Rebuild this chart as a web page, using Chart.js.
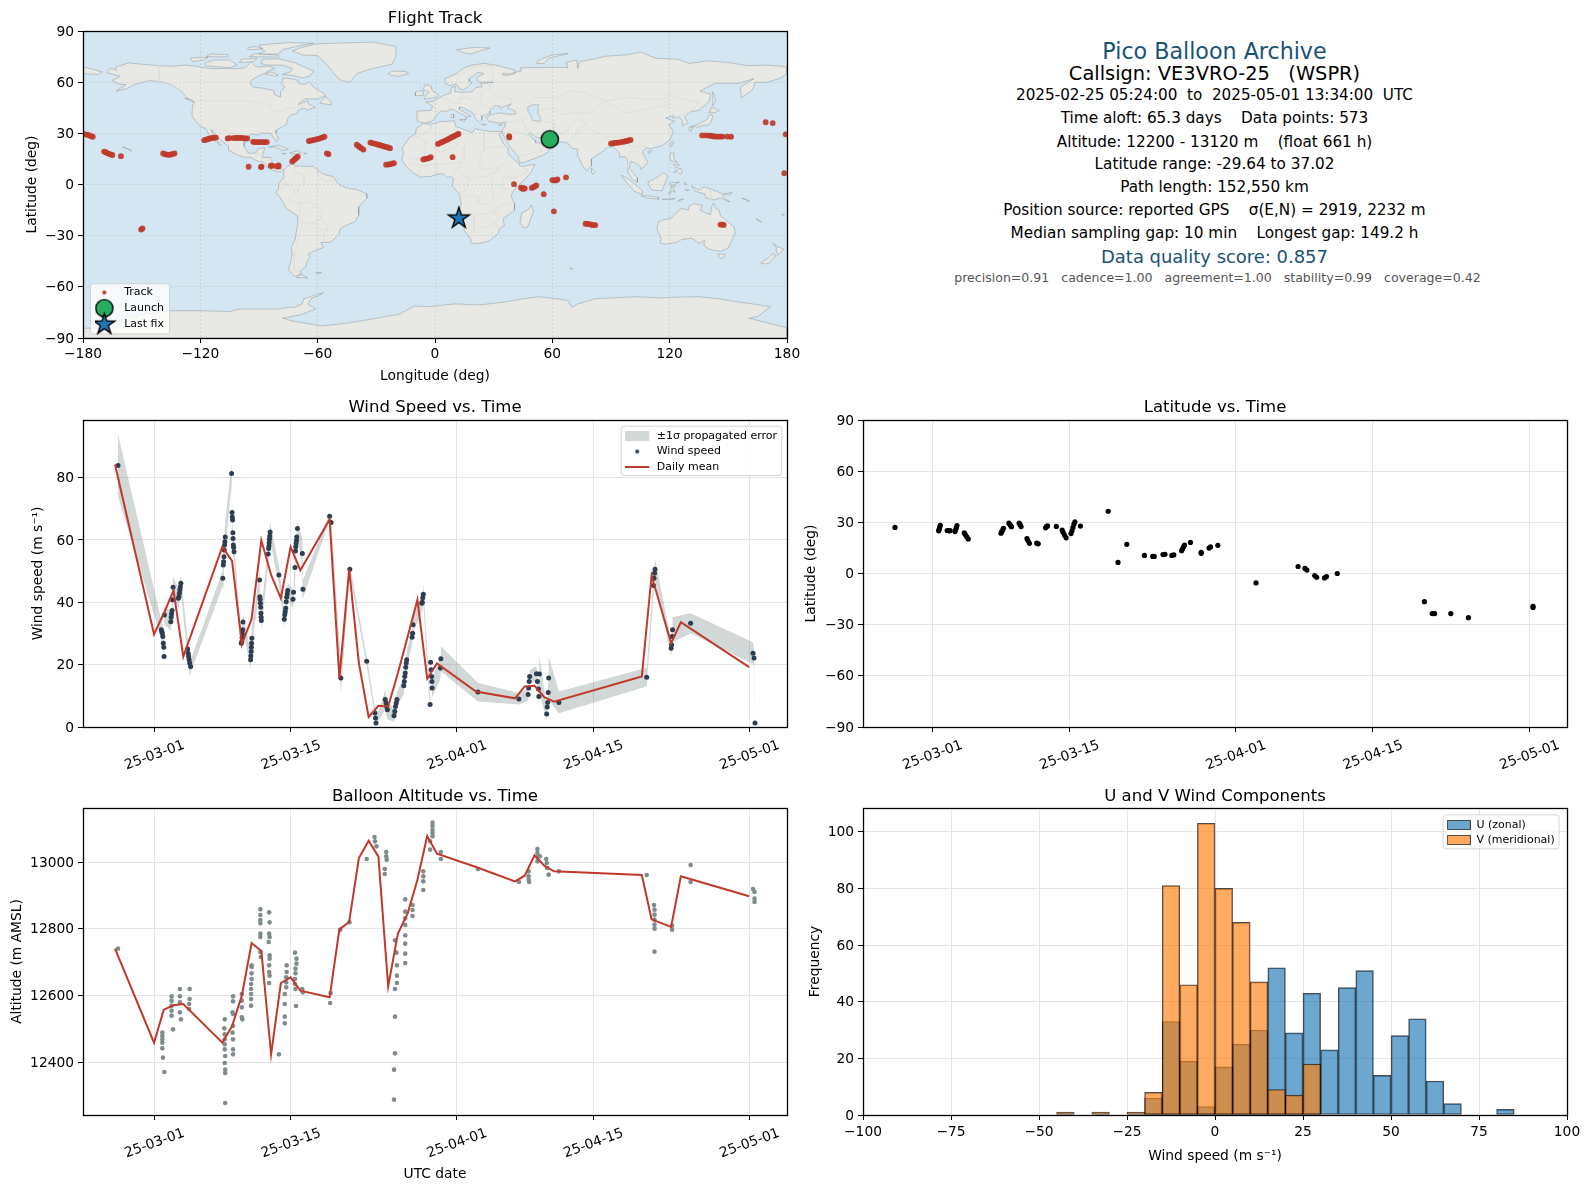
<!DOCTYPE html>
<html><head><meta charset="utf-8">
<style>
html,body{margin:0;padding:0;background:#fff;width:1589px;height:1189px;overflow:hidden;font-family:"DejaVu Sans",sans-serif}
canvas{position:absolute}
.info{position:absolute;transform:translate(-50%,-50%);white-space:pre;line-height:1}
</style>
<script src="https://cdn.jsdelivr.net/npm/chart.js@4/dist/chart.umd.js"></script>
</head><body>
<script>
/* ---------- DATA (days are counted from 2025-03-01) ---------- */
const dateTickDays=[0,14,31,45,61];
const dateTickLabels=['25-03-01','25-03-15','25-04-01','25-04-15','25-05-01'];
const lonTicks=[-180,-120,-60,0,60,120,180];
const latTicks=[-90,-60,-30,0,30,60,90];
const windTicks=[0,20,40,60,80];
const altTicks=[12400,12600,12800,13000];
const histXTicks=[-100,-75,-50,-25,0,25,50,75,100];
const histYTicks=[0,20,40,60,80,100];

const launchFix=[58.7,26.5];
const lastFix=[12.2,-19.5];
const trackFixes=[[-179.8,29.6],[-178.8,29.4],[-177.8,29.2],[-176.8,28.8],[-175.8,28.3],[-175,28],
[-169.2,19.3],[-168.4,18.9],[-167.6,18.4],[-166.8,18],[-166,17.7],[-165,17.3],[-160.6,16.6],
[-139,18.2],[-138,17.8],[-137,17.5],[-136,17.4],[-135,17.6],[-134,18],[-133.2,18.2],[-150.3,-26.4],[-149.6,-25.8],
[-118,26],[-117,26.3],[-116,26.7],[-115,27],[-114,27.3],[-113,27.4],[-112,27.5],
[-106,27],[-105,27.2],[-103,27.2],[-102,27.3],[-101,27.3],[-100,27.3],[-99,27.3],[-98,27.2],[-97,27],[-96,27],
[-93,25],[-92,24.9],[-91,24.8],[-90,24.9],[-89,24.9],[-88,24.9],[-87,24.8],[-86,24.9],
[-95.3,10.4],[-88.7,10.4],[-89,10.2],[-84,11],[-83.2,11],[-80.8,10.7],[-80,11.2],[-80,10.5],
[-73,13.5],[-72.3,14.2],[-71.6,15],[-71,15.6],[-70.2,16.3],
[-64.5,25.5],[-63.5,25.7],[-62.5,26],[-61.5,26.2],[-60.5,26.6],[-59.5,26.8],[-58.5,27.2],[-57.5,27.6],[-56.5,28],
[-55.3,18.3],[-54.5,17.8],[-40,23.3],[-39.2,22.6],[-38.4,21.9],[-37.6,21.2],[-36.6,20.5],
[-33,24.6],[-32,24.3],[-31,24],[-30,23.7],[-29,23.3],[-28,23],[-27,22.7],[-26,22.3],[-25,22],[-24,21.7],[-23,21.3],
[-25,11.6],[-24,11.7],[-23,11.9],[-22,12.2],[-21,12.5],[-6,14.7],[-5,15],[-4,15.2],[-3,15.5],[-2.2,16],
[1.5,23.8],[2.5,24.3],[3.5,24.8],[4.5,25.3],[5.5,25.9],[6.5,26.4],[7.5,27],[8.5,27.7],[9.5,28.2],[10.5,28.8],[11.5,29.4],[12,29.6],
[9,16],[37.9,28.4],[38,27.6],[40.4,0.2],[44,-1.9],[45,-2.1],[45.9,-2.3],[45,-2.6],[49.5,-2],[50.3,-1.5],[51,-1.2],[51.8,-0.6],
[55.6,-5.7],[60.8,-15.7],[60,2.6],[61,2.4],[62,2.5],[62.6,3],[67,4.2],
[77,-23],[78,-23.1],[79,-23.2],[80,-23.6],[81,-23.8],[82,-23.8],
[90,24],[91,24.2],[92,24.4],[93,24.6],[94,24.6],[95,24.9],[96,25],[97,25.2],[98,25.5],[99,25.8],[100,26.1],
[136.6,28.8],[138.5,28.8],[140,28.7],[141,28.6],[142,28.3],[143,28.2],[144,28.1],[145,28.1],[146,28.1],[147,28.1],[149.4,28.1],[151.4,28],
[146,-23.5],[147,-23.5],[147.6,-23.7],[169.1,36.5],[172.7,36],[179.3,29.4],[178.6,6.6]];

const meanDays=[-4,0,1,2,3,7,8,9,10,11,12,13,14,15,18,19,20,21,22,23,24,25,26,27,28,29,33,37,38,39,40,41,50,51,53,54,61];
const meanSpeed=[84.2,29.8,36.4,43.8,22.6,57.8,53.3,26.6,34.6,59.9,48.8,41.3,57.8,50.3,66.6,15.7,50.6,20.5,3.2,6.8,6.6,17.3,29,40.8,15.5,20.4,11.4,9.2,13,13.2,9.6,8.1,16.2,48.6,26.9,33.6,19.2];
const meanAltitude=[12740,12458,12557,12570,12574,12458,12508,12599,12757,12733,12423,12637,12654,12614,12594,12798,12820,13012,13064,13016,12627,12785,12846,12947,13078,13025,12985,12942,12959,13020,12989,12972,12961,12828,12805,12957,12897];

/* [day, speed, sigma] */
const windSamples=[[-3.69,83.9,10],
[.75,31.2,3],[.8,30.6,3],[.85,30.1,3],[.9,29,3],[.95,26.9,3],[1,25.6,3],[1.03,22.6,3],[1.06,35.9,3],
[1.72,33.8,3],[1.76,35.2,3],[1.8,36.3,3],[1.85,37.4,3],[1.9,40.8,3],[1.95,44.8,3.5],
[2.5,41.3,3],[2.55,41.8,3],[2.6,42.9,3],[2.65,44,3],[2.7,45,3],[2.75,46.1,3],
[3.45,25,3],[3.5,23.7,3],[3.55,22.6,3.5],[3.6,21.6,3.5],[3.65,20.5,4],[3.75,19.4,2],
[7.05,47.7,2.5],[7.1,52,8],[7.13,53,5],[7.17,54.6,5],[7.2,56.8,5],[7.23,58.4,5],[7.26,59.4,5],[7.3,61,5],
[7.95,81.3,3.5],[8,68.8,4],[8.02,67.4,4],[8.05,66.4,4],[8.08,62.3,4],[8.1,60.5,4],[8.13,58.4,3],[8.16,57.6,3],[8.2,56.2,3],
[8.95,26.9,2.5],[9,27.4,2.5],[9.02,28.6,2.5],[9.05,29.9,2.5],[9.08,31.2,2.5],[9.12,33.7,2.5],
[9.9,21.6,2.8],[9.93,22.8,2.8],[9.96,24.2,2.8],[9.98,25.6,2.8],[10,26.9,2.8],[10.03,28.5,2.8],
[10.82,47.2,3],[10.85,41.8,3],[10.88,41,3],[10.9,39.7,3],[10.93,38.4,3],[10.96,36.5,3],[10.98,35.2,3],[11,34.2,3],
[11.7,55.5,3],[11.75,57.3,3],[11.78,58.1,3],[11.8,59.1,3],[11.83,60.2,3],[11.86,61.3,3],[11.9,62.6,3],
[12.8,48.8,3],
[13.35,34.6,3],[13.4,36,2.5],[13.45,37,2.5],[13.5,38.1,2.5],[13.55,40.2,2.5],[13.6,41.6,2.5],[13.65,42.7,2.5],[13.7,43.8,2.5],
[14.25,41,3],[14.3,43.2,3],[14.45,51.2,3],[14.5,56.5,3],[14.53,57.8,3],[14.56,58.9,3],[14.6,59.8,2.5],[14.63,61,2.5],[14.7,63.7,2],
[15.2,55.7,5],[15.26,44.2,3],
[18,67.6,1],[18.15,65.6,1.5],[19.15,15.7,5],[20.07,50.6,1.5],[21.8,21.1,1.5],
[22.65,4.5,1.5],[22.7,2.9,1.5],[22.75,1.3,1],
[23.7,8.8,3],[23.78,7.7,3],[23.85,6.6,3],[23.92,5.5,3],
[24.6,3.6,2],[24.68,5,2],[24.75,6.6,2.5],[24.82,7.7,2.5],[24.9,8.8,2.5],
[25.6,13.2,2.5],[25.65,14.6,2.5],[25.7,16.2,2.5],[25.75,17.3,2.5],[25.8,19.2,2.5],[25.85,20.5,2.5],[25.9,21.6,2.5],
[26.45,28.8,2.5],[26.5,30.1,2.5],[26.55,32.8,2.5],
[27.45,39.7,3],[27.5,40,3],[27.55,41.5,3],[27.6,42.6,3],
[28.3,7.2,3],[28.35,20.8,3],[28.4,18.4,3],[28.45,16.2,3],[28.48,14.6,3],[28.5,12.5,3],
[29.35,18.9,3.5],[29.4,21.9,4],
[33.2,11.2,3],[37.4,9,1.8],
[38.35,10.4,2],[38.4,12.5,2],[38.45,14.6,2],[38.5,16.2,2],
[39.2,17.1,2.5],[39.3,14.6,2],[39.4,12.2,2],[39.45,9.8,2],[39.5,17,6],
[40.25,4.2,2],[40.3,6.4,2],[40.35,7.9,2],[40.4,11.1,3],[40.45,15.7,7],
[41.5,7.9,3.5],[50.5,16,3],
[51.2,45.4,3],[51.25,47.7,3],[51.3,49.3,3],[51.35,50.6,3.5],
[53,25.3,2.5],[53.05,26.4,2.5],[53.1,29,3],[53.15,31.2,4],
[55,33.3,3.2],[61.4,23.7,3.5],[61.5,22.1,2.5],[61.6,1.3,1]];

/* [day, altitude] */
const altitudeSamples=[[-3.69,12740],
[.85,12488],[.85,12478],[.85,12468],[.85,12458],[.85,12441],[.92,12413],[1.06,12370],
[1.8,12597],[1.8,12584],[1.8,12569],[1.8,12554],[1.8,12539],[1.95,12498],
[2.65,12619],[2.65,12597],[2.65,12579],[2.65,12549],[2.75,12528],
[3.65,12619],[3.65,12589],[3.6,12574],[3.6,12559],
[7.25,12528],[7.2,12501],[7.25,12483],[7.25,12468],[7.25,12453],[7.25,12438],[7.3,12418],[7.25,12397],[7.3,12377],[7.3,12367],[7.3,12277],
[8.1,12597],[8.1,12582],[8.05,12549],[8.1,12544],[8.1,12508],[8.05,12488],[8.1,12468],[8.1,12438],[8.1,12423],
[9,12604],[9,12584],[9,12564],[9,12534],[9.05,12528],
[10,12690],[10,12685],[10,12666],[10,12649],[9.95,12634],[9.95,12619],[9.95,12604],[9.95,12589],[9.95,12569],
[10.9,12858],[10.9,12841],[10.9,12826],[10.9,12816],[10.9,12785],[10.9,12775],[10.9,12730],[10.95,12715],
[11.8,12849],[11.85,12819],[11.8,12785],[11.85,12775],[11.75,12760],[11.85,12720],[11.85,12710],[11.8,12690],[11.8,12670],[11.85,12659],[11.8,12637],
[12.8,12423],
[13.6,12690],[13.6,12670],[13.55,12654],[13.55,12639],[13.55,12624],[13.4,12604],[13.4,12574],[13.4,12536],[13.4,12516],
[14.45,12728],[14.6,12710],[14.6,12695],[14.5,12680],[14.5,12666],[14.45,12649],[14.45,12634],[14.5,12619],[14.55,12568],
[15.2,12619],[15.25,12609],[18.1,12607],[18.05,12577],[19.1,12797],[20.03,12819],[21.8,13009],
[22.6,13075],[22.65,13062],[22.8,13047],
[23.8,13030],[23.8,13017],[23.85,13007],[23.65,12979],[23.65,12964],
[24.7,12765],[24.85,12728],[24.9,12690],[24.9,12659],[24.9,12637],[24.7,12619],[24.7,12536],[24.7,12426],[24.6,12377],[24.6,12287],
[25.75,12888],[25.75,12851],[25.75,12831],[25.75,12811],[25.75,12780],[25.75,12755],[25.75,12725],[25.75,12697],
[26.5,12871],[26.5,12856],[26.5,12838],
[27.6,12972],[27.6,12957],[27.6,12942],[27.6,12916],
[28.55,13118],[28.55,13108],[28.55,13096],[28.55,13087],[28.55,13077],[28.3,13062],[28.3,13037],[29.4,13030],[29.4,13009],
[33.2,12979],[37.4,12940],
[38.4,12972],[38.4,12957],[38.4,12947],[38.45,12940],
[39.3,13039],[39.3,13027],[39.3,13015],[39.3,13002],[39.55,13017],
[40.2,13009],[40.25,12997],[40.3,12982],[40.45,12962],[41.5,12972],[50.5,12961],
[51.25,12871],[51.3,12857],[51.3,12842],[51.3,12827],[51.3,12812],[51.3,12800],[51.3,12731],
[53.1,12809],[53.1,12797],[55,12991],[55,12940],
[61.4,12919],[61.55,12910],[61.55,12890],[61.55,12880]];

/* [day, latitude] */
const latitudeSamples=[[-3.78,27],
[.68,25],[.73,26],[.78,27],[.85,28.3],[1.55,25.2],[1.73,25],[1.85,25.1],
[2.35,24.6],[2.42,25.6],[2.48,26.8],[2.55,28.1],
[3.3,23.8],[3.4,22.8],[3.55,21.5],[3.7,20.3],
[7.05,23.6],[7.12,24.5],[7.22,25.5],[7.3,26.5],
[7.85,29.6],[7.95,28.8],[8.05,28],[8.12,27.4],[8.9,29.6],[9,28.6],[9.1,27.5],
[9.7,20.5],[9.8,19.3],[9.95,17.7],[10.7,17.8],[10.85,17.4],
[11.6,26.8],[11.7,27.6],[11.8,27.9],[12.7,27.6],
[13.3,25.4],[13.4,24],[13.55,22.4],[13.7,20.9],[14.2,23.4],[14.3,25],[14.4,27],[14.5,29],[14.6,30.3],[15.16,27.8],
[18,36.5],[19,6.5],[19.9,17.1],[21.7,10.6],[22.55,10],[22.7,10],
[23.6,11.1],[23.8,11.3],[24.5,10.6],[24.7,10.9],
[25.5,13.4],[25.6,14.5],[25.7,15.7],[25.8,16.7],[26.4,18.2],[27.5,12.4],[27.5,11.8],[28.3,14.9],[28.45,15.6],[29.2,16.5],
[33.1,-5.5],[37.4,4.1],[38.1,3],[38.3,2],[39.1,-1.2],[39.3,-2.2],[40.1,-2.6],[40.3,-1.8],[41.4,0],
[50.3,-16.5],[51.1,-23.5],[51.35,-23.5],[53,-23.5],[54.8,-25.9],[61.4,-19.2],[61.4,-20]];

const histBinCenters=[-97.5,-92.5,-87.5,-82.5,-77.5,-72.5,-67.5,-62.5,-57.5,-52.5,-47.5,-42.5,-37.5,-32.5,-27.5,-22.5,-17.5,-12.5,-7.5,-2.5,2.5,7.5,12.5,17.5,22.5,27.5,32.5,37.5,42.5,47.5,52.5,57.5,62.5,67.5,72.5,77.5,82.5,87.5,92.5,97.5];
const histU=[0,0,0,0,0,0,0,0,0,0,0,0,0,0,0,0,6,33,19,3,17,25,30,52,29,43,23,45,51,14,28,34,12,4,0,0,2,0,0,0];
const histV=[0,0,0,0,0,0,0,0,0,0,0,1,0,1,0,1,8,81,46,103,80,68,47,9,7,18,0,0,0,0,0,0,0,0,0,0,0,0,0,0];

/* coast outlines, [lon,lat] */
const northAmerica=[[-168,65.6],[-166,68.3],[-163,67],[-163,69],[-156.6,71.3],[-150,70.5],[-141,69.7],[-135,69.3],[-128,70],[-124,69.6],[-115,68],[-108,68],[-102,67.8],[-97,68.5],[-94,72],[-92,69.5],[-90,68.8],[-85,69.5],[-82,68],[-86,66.2],[-87,65],[-90.5,63.6],[-94,61],[-94.6,58.9],[-92.5,57],[-88,56.5],[-82.5,55],[-82,52.5],[-79,51.3],[-79,54.5],[-76.7,57],[-78.5,59],[-77.5,62.5],[-73.5,62],[-70,61],[-69.5,59],[-66,58.7],[-64.5,60.3],[-61.5,56.5],[-57,53.5],[-56,52],[-60,50.2],[-66.5,50.2],[-70,47],[-65,49],[-64.5,47],[-61,45.3],[-65.5,43.6],[-67,45],[-70,43.5],[-70.5,41.7],[-74,40.6],[-75.5,38],[-76,35],[-78,34],[-81,32],[-81.3,30],[-80,26.8],[-81,25.1],[-82.7,27.8],[-84,30],[-89,30.2],[-90,29],[-94,29.5],[-97.3,27.5],[-97.6,22.5],[-96,19],[-94.5,18.2],[-91.5,18.6],[-90.5,21],[-87,21.5],[-88,18],[-88.5,16],[-84,15.8],[-83.3,14.9],[-83.6,11],[-82,9],[-79.5,9.6],[-77.5,8.6],[-78,7.5],[-80,7.3],[-83,8.3],[-85.7,10],[-87.5,13],[-91.5,14],[-94.5,16.2],[-97,15.8],[-101.5,17.6],[-105.5,20],[-105.6,22.5],[-109.5,26],[-112,29],[-113.5,31.5],[-114.8,31.8],[-112.5,27.8],[-109.8,23],[-112,25],[-115,28],[-117,32.5],[-120.5,34.5],[-122.5,37.5],[-124.3,40],[-124,46],[-123,48.5],[-127,51],[-130,55],[-134,58],[-139,60],[-146,61],[-151,59.5],[-154,58.5],[-158,56],[-163,54.8],[-158,58.5],[-162,59],[-165,61],[-161,63.5],[-168,65.6]];
const southAmerica=[[-77.3,8.5],[-75.5,10.8],[-72,12.2],[-71.5,10.8],[-68,10.7],[-62,10.7],[-60,8.4],[-57,6],[-52,4.6],[-50,1],[-48.5,-.5],[-44,-2.5],[-40,-2.9],[-35.2,-5.3],[-34.8,-8],[-39,-13],[-39,-18],[-41,-22],[-45,-23.7],[-48.5,-26],[-49,-29],[-53.5,-34],[-58.3,-34],[-57,-37],[-62,-39],[-65,-41],[-63.8,-42.5],[-65.5,-45],[-66,-48],[-69,-51],[-68.3,-52.5],[-72,-53.8],[-75,-50],[-74,-46],[-73,-41],[-73.5,-37],[-71.5,-32],[-70.5,-25],[-70.2,-18.5],[-76,-14],[-79,-8],[-81.3,-4.5],[-80,-2.5],[-80,.8],[-78.5,2.5],[-77.2,4],[-77.5,7],[-77.3,8.5]];
const africa=[[-5.9,35.8],[-2,35.2],[3,36.9],[10,37.3],[10.5,34],[15,32.3],[19,30.3],[20.5,32.7],[25,31.7],[29,31],[32.5,31.2],[34.3,31],[32.6,29.5],[35,24],[37.3,21],[37.5,18],[39.5,15.5],[43.2,12],[43.2,11.5],[44.5,10.5],[51.2,11.9],[49,7],[46,3],[41.5,-1.7],[39.5,-4.7],[39,-7],[40.5,-11],[40.7,-15],[36,-19],[34.8,-20],[35.5,-24],[32.8,-26],[32.5,-28.5],[28,-33],[25,-34],[20,-34.8],[18.3,-34],[18.3,-32],[15,-27],[14.5,-22],[11.8,-17],[13.5,-12],[13,-8],[12,-5],[9,-1],[9.5,3.5],[8.5,4.5],[6,4.3],[4,6.3],[1,6],[-2,4.8],[-7.5,4.4],[-11,6.7],[-13.3,9],[-15,11],[-17,14.7],[-16,19],[-17,21],[-13,27.7],[-10,29.5],[-9.5,33],[-5.9,35.8]];
const eurasia=[[-9,37],[-9.3,39],[-9,43],[-2,43.5],[-1.2,46],[-4.7,48.4],[-1.5,48.7],[1.5,50.3],[4,52],[8,53.7],[8.5,57],[10.5,57.5],[10,54.5],[14,54],[19,54.4],[21,57],[24,57.2],[23.5,59.3],[28,59.7],[30,60],[23,60],[21.5,61],[21.5,63],[25,65],[22,65.8],[17.5,62],[17.5,60.5],[19,59.8],[16.5,57],[14.5,55.5],[12.7,56],[11,59],[8,58],[5.5,59],[5,62],[11,65],[15,68.5],[19,70],[25,71],[31,70],[41,67],[40.5,64.7],[34.5,65],[35,64],[38,64.2],[40,65.5],[44,66.5],[44,68.5],[54,68.5],[60,68.7],[68,68.5],[67,71.5],[72.5,73],[73,68],[74,72],[81,73.5],[87,75.2],[98,76],[105,77.7],[113,74],[124,73.5],[130,71],[140,72.5],[150,71.5],[160,69.7],[170,70],[180,69],[180,65],[177,62.5],[170,60],[163.5,60],[163,57],[162,55],[156.7,51],[156,57],[163,62],[155,59.3],[143,59.3],[135.5,54.7],[141,53],[140,48.5],[135,43.5],[130.5,42.5],[127.5,39.7],[129.5,36],[126.5,34.5],[126.5,37.5],[125,39.7],[121.5,39],[122,40.5],[118,39],[122.5,37],[119.5,35],[122,31],[120,26],[116.5,23],[110.5,21],[108,21.6],[106,19],[109,13],[107,10.5],[105,9],[105,10.5],[102,13],[100,13.5],[99.3,9.5],[103.5,4],[103.5,1.4],[101,3],[98.3,8],[98.5,14],[97,16.5],[94.5,16],[94,19],[91,22.5],[88,21.7],[86.5,20],[82,16.5],[80,15],[80,11],[77.5,8],[75.5,11],[73,17],[72.8,21],[70,21],[69,23],[67,24.8],[62,25],[57.5,25.5],[56.5,27],[52,27.7],[48.8,30.3],[48,29.5],[50,26.7],[51.3,26],[51.5,24.5],[54,24.2],[56.3,26],[56.8,24],[59.8,22.5],[57.8,19],[55,17],[52,15.7],[45,12.8],[43.3,12.8],[42.5,16.5],[39,21],[35.8,27],[34.8,29.5],[34.3,31.3],[36,35],[36,36.7],[32.5,36],[30.5,36.5],[27.5,37],[26.3,39.3],[29,41],[33,42],[38,41],[41.5,41.5],[41,43],[37,45],[39,47.2],[35,45.7],[33.5,44.5],[33,46],[30.5,46.3],[28,43],[28,41.5],[26,40.8],[23.7,40],[24,38],[22.7,36.6],[21,38],[19.5,41.5],[18.5,42.5],[13.7,45.3],[12.3,45.3],[12.5,44],[16,41.8],[18.5,40],[16.5,39.7],[15.8,38],[15.8,40],[11.5,42.5],[8.8,44.4],[6,43],[3,43],[.3,40],[-.3,38.5],[-2,36.8],[-5.5,36],[-9,37]];
const australia=[[114.2,-22],[113.5,-26],[115.7,-32],[115,-34.3],[118,-35],[123.5,-34],[126,-32.3],[131.3,-31.5],[135,-34.5],[137.8,-32.8],[137.5,-35.5],[140,-37.8],[143.5,-38.8],[146.3,-39],[150,-37.3],[151.5,-33.5],[153.5,-28.5],[153,-25],[150.5,-22.5],[148,-20],[146,-18.5],[145.3,-15],[143.5,-14],[142.5,-10.8],[141.5,-13],[140.8,-17.5],[139,-17],[135.5,-15],[136.8,-12.3],[132.5,-11.3],[130,-12.5],[129.5,-15],[126,-14],[122.5,-17.5],[121,-19.7],[117,-20.7],[114.2,-22]];
const antarctica=[[-180,-84.3],[-162,-84],[-157,-78],[-148,-76],[-135,-74],[-120,-74],[-105,-74.5],[-100,-73],[-88,-73],[-80,-73],[-75,-72],[-72,-72],[-68,-70],[-67,-67],[-62,-65],[-57,-63.4],[-60,-65.5],[-63,-66.5],[-65,-70],[-61,-73],[-69,-76.5],[-78,-78.4],[-73,-80],[-58,-83],[-45,-81.3],[-33,-79],[-18,-76],[-10.6,-71.3],[-3,-71.6],[10,-70],[23,-70.6],[35,-69],[45,-67],[53,-65.8],[62,-67],[68,-68],[70,-72],[73,-70],[82,-67],[90,-66.5],[103,-65.8],[115,-66.5],[125,-66],[135,-65.8],[145,-67],[151,-68.2],[162,-70],[171.6,-71.6],[165,-77.4],[160.5,-78.4],[180,-84],[180,-90],[-180,-90],[-180,-84.3]];
const greenland=[[-73,78.3],[-68,76],[-60,75.5],[-55,70],[-53,67],[-51,64],[-48,61],[-43.5,60],[-40,65],[-32,68],[-22,70.5],[-20,75],[-20,81],[-32,83.5],[-60,82.5],[-68,80.5],[-73,78.3]];
const islands=[
[[-80,73.7],[-72,71.5],[-67,69],[-62,66.5],[-64,63.5],[-68,62.5],[-72,63.8],[-78,64.5],[-74,66],[-73,68],[-78,70],[-86,70],[-89,71],[-88,73.5],[-80,73.7]],
[[-117,69.5],[-105,68.5],[-101,70],[-105,73],[-113,73],[-118,71],[-117,69.5]],
[[-124,72],[-118,73],[-116,74.5],[-125,74.3],[-124,72]],
[[-90,76.5],[-80,76.5],[-78,79],[-68,81.7],[-62,82.8],[-75,83.2],[-90,81.8],[-87,78],[-90,76.5]],
[[-95,75],[-80,74.7],[-80,75.8],[-92,76.8],[-95,75]],
[[-117,75],[-106,74.8],[-106,76.2],[-115,76.5],[-117,75]],
[[-95,79],[-88,79.5],[-92,81],[-96,80],[-95,79]],
[[-87,65],[-82,63.5],[-80,64],[-84,66],[-87,65]],
[[-100,71.5],[-93,72],[-91,74],[-99,73.5],[-100,71.5]],
[[-59,47.7],[-53,46.7],[-53,48.5],[-56,51.5],[-59,47.7]],
[[-128,50.5],[-123.5,48.4],[-125,50],[-128,50.5]],
[[-85,22],[-80,23],[-75,20.7],[-77.5,19.9],[-82,22],[-85,22]],
[[-74.3,18.5],[-70,19.9],[-68.4,18.6],[-71.5,17.8],[-74.3,18.5]],
[[-78.3,18.3],[-76.3,18.2],[-77,17.8],[-78.3,18.3]],
[[-67.2,18.4],[-65.6,18.3],[-66.5,18],[-67.2,18.4]],
[[-160,22],[-158,21.5],[-155,19.5],[-155.8,20.2],[-160,22]],
[[-68.5,-52.7],[-65,-54.8],[-71,-54.5],[-68.5,-52.7]],
[[-61,-51.8],[-58,-51.5],[-59,-52.3],[-61,-51.8]],
[[-180,65],[-172.5,64.5],[-170,66],[-175,67.5],[-180,69],[-180,65]],
[[49.3,-12],[50.4,-15.5],[47.5,-24.8],[45.2,-25.5],[43.4,-22],[44.4,-16.5],[47.5,-15],[49.3,-12]],
[[-5.5,50],[1.3,51.2],[1.7,52.8],[-1.5,55],[-2,57.7],[-5,58.6],[-6,56],[-3,54],[-4.5,52.5],[-5,51.7],[-5.5,50]],
[[-10,52],[-6,52.2],[-6,55],[-8.5,55],[-10,54],[-10,52]],
[[-24,65],[-22,66.4],[-15,66.3],[-13.5,65],[-19,63.4],[-22.5,64],[-24,65]],
[[11,79],[20,80.4],[28,80],[18,76.5],[14,77.5],[11,79]],
[[52,71],[56,71],[58,74],[68,76.8],[60,76],[53,73],[52,71]],
[[12.5,38],[15.5,38.2],[15,36.7],[12.5,38]],[[8.3,41],[9.7,41],[9.5,39],[8.5,39],[8.3,41]],
[[23.6,35.4],[26.3,35.2],[24.5,34.9],[23.6,35.4]],[[32.5,35],[34.5,35.5],[33.5,34.7],[32.5,35]],
[[80,9.7],[81.8,7.5],[80.6,6],[79.8,7.5],[80,9.7]],
[[95.3,5.5],[98,4],[103.5,-1],[106,-3.5],[105.8,-5.8],[102,-4],[98.5,.5],[95.3,5.5]],
[[105.3,-6.7],[108.5,-6.5],[114.5,-7.7],[114.3,-8.7],[108,-7.8],[105.3,-6.7]],
[[109,1.5],[111.5,2.8],[114,4.5],[117,7],[119,5],[117.7,1],[116,-3.8],[111,-3.2],[109,0],[109,1.5]],
[[119.5,-5.5],[120.5,-3],[121,-2],[120,.9],[125,1.5],[120.8,-.9],[123,-1],[121.5,-2],[122.8,-4.5],[121,-3.5],[120.3,-5.5],[119.5,-5.5]],
[[131,-.8],[135,-3.3],[137.5,-1.5],[141,-2.6],[145,-4.5],[147.8,-6],[147,-7],[150.8,-10.3],[146,-8],[143,-9],[138.5,-8],[138,-5.5],[133,-4],[132.3,-2.5],[131,-.8]],
[[124,-10],[127,-8.5],[125,-9],[124,-10]],[[116,-8.6],[122.8,-8.3],[119,-8.9],[116,-8.6]],[[127.7,1.5],[128.5,-.5],[127.9,.3],[127.7,1.5]],[[128,-3],[130,-3.3],[128.5,-3.5],[128,-3]],
[[120.5,18.5],[122.3,18.3],[122,15],[124,13],[121,13.7],[120,16],[120.5,18.5]],[[122,7],[125.5,9.7],[126.5,7.5],[125.5,5.8],[123.8,7.7],[122,7]],[[122,11.8],[125,11.5],[123,9.5],[122,11.8]],
[[121,25],[122,25],[120.8,22],[120.1,23],[121,25]],[[108.8,19.3],[110.5,20],[111,19.5],[109.5,18.2],[108.8,19.3]],
[[130.9,34],[135,35.7],[139,38],[140,40.5],[141.4,41.3],[142,39.5],[141,36.5],[140,35],[136.5,34.5],[135,33.7],[132,34],[130.9,34]],
[[130,33.5],[131.7,33.5],[131,31],[130.2,31.5],[130,33.5]],[[140,42],[141.5,45.4],[145.3,43.5],[143,42],[141,42.5],[140,42]],
[[142,54.3],[143,52],[143.5,49],[142,46],[142,50],[142,54.3]],
[[172.7,-34.5],[175.5,-36.7],[178.4,-37.7],[177,-39.5],[175.3,-41.6],[174.7,-39],[174.5,-37],[172.7,-34.5]],
[[172.8,-40.5],[174.3,-41.7],[171,-45.9],[169,-46.6],[166.5,-46],[170.5,-43],[172.8,-40.5]],
[[144.7,-40.7],[148.3,-40.9],[148,-42.5],[146.5,-43.5],[145.2,-42.2],[144.7,-40.7]],
[[164,-20],[167,-22],[165.5,-21],[164,-20]],[[177.3,-17.5],[178.7,-17.7],[178,-18.2],[177.3,-17.5]],[[157,-8],[161,-10],[159,-8.7],[157,-8]],[[148,-5.5],[152,-4.5],[151,-6],[148,-5.5]],[[68.8,-49],[70.5,-49.2],[69.5,-49.8],[68.8,-49]]];
const caspianSea=[[50,46.7],[53,46.8],[52.5,42],[54,39],[53.5,37],[50,37.5],[49,40.5],[47.5,43],[47.5,45.5],[50,46.7]];
const countryBorders=[
[[-141,69.7],[-141,60],[-135,59],[-130,55]],[[-123,49],[-95,49],[-89,48],[-84,46.5],[-82.5,42.5],[-79,43],[-75,45],[-71,45],[-69,47.3],[-67,45]],
[[-117,32.5],[-106.5,31.8],[-103,29],[-97.3,26]],[[-92,14.5],[-91,17.8],[-89,17.8],[-88.3,18]],[[-89.3,15.8],[-87.5,13]],[[-83.3,14.9],[-87,13]],[[-83.6,11],[-85.7,11]],[[-77.5,8.6],[-77.8,7.3]],
[[-71.5,11],[-72.5,7.5],[-67.5,6],[-67,1.2]],[[-78.8,1.4],[-75.3,0],[-70,-4.2]],[[-67,1.2],[-70,-1],[-70,-4.2],[-74,-7.5],[-73,-11],[-69.5,-11],[-65,-10],[-60,-13.5],[-58,-16],[-58,-20],[-54.5,-25.5],[-57.5,-30],[-53.5,-34]],[[-60,8.4],[-60,5],[-56,2],[-52,2],[-51.5,4.2]],[[-69.5,-18],[-68,-23],[-70,-33],[-71.7,-40],[-72,-50],[-69,-52]],[[-69.5,-11],[-69,-16],[-69.5,-18]],[[-68,-23],[-62.5,-22],[-58,-20]],[[-62.5,-22],[-58,-27],[-54.5,-25.5]],[[-80.3,-3.4],[-75.3,0]],
[[-2,35],[-2,32],[-9,27.7],[-13,27.7]],[[-9,27],[-5,25],[3,19],[12,23.5]],[[9,30],[10,24],[12,23.5]],[[25,31.7],[25,20]],[[25,22],[37,22]],[[24,20],[22.5,13],[24,9]],[[15,23],[15,13]],[[3,12],[14,13]],[[-12,15],[-5.5,15.5],[-5,25]],[[-12,12],[-5,11],[3,12]],[[8.5,4.5],[14,13]],[[14,5],[18,3.5],[27,5],[34,10]],[[24,9],[34,10]],[[12,-5],[16,-3],[18,3.5]],[[12,-6],[22,-7],[22,-11],[28,-12]],[[30,3.5],[29,-2],[30,-8],[28,-12]],[[41,4],[48,8],[43,11]],[[34,-1],[39.5,-4.7]],[[34,-1],[35,4],[41,4]],[[40.5,-10.7],[35,-11.5]],[[11.8,-17.3],[24,-17.5]],[[20,-18],[20,-28],[17,-28.5]],[[20,-25],[26,-25],[31,-22.5],[32,-26]],[[24,-17.5],[33,-15.5]],[[31,-22.4],[33,-19],[30,-15.5],[35,-11.5]],[[34,10],[36,14],[38,18]],[[1,6],[1,11]],[[-7.5,4.4],[-8,10],[-5,11]],
[[-1.7,43.4],[3,42.4]],[[2.5,51],[6,49.5],[8,49],[7,44]],[[14,54],[15,51],[19,49.5]],[[7.5,47.6],[13,47.6],[12,50.3],[15,51]],[[23,54],[24,50],[22.5,48]],[[28,59.7],[28,56],[23,54]],[[28,60.5],[30,63],[29,69],[26,70]],[[11,59],[12.5,64],[20,69],[29,69.7]],[[33,52],[40,50],[38,47]],[[47.5,48],[50,51],[62,51],[70,55],[77,54],[87,49]],[[52,42],[56,45],[66,41],[71,42],[80,42],[87,49]],[[87,49],[98,42],[112,45],[120,47],[116,50]],[[87,49],[98,51],[107,50],[116,50]],[[116,50],[120,53],[127,50],[135,48],[131,43]],[[124.5,40],[128,42],[130.5,42.5]],[[74,39],[80,32],[87,28],[97,28],[98,24],[102,22],[106,23],[108,21.6]],[[68,24],[71,28],[74,33],[77,35]],[[61,25],[61,30],[66,30],[71,36],[74,39]],[[48,30],[46,34],[44.5,37.5],[48,39]],[[54,37.5],[61,36],[61,31]],[[36,36.7],[42,37]],[[35,29.4],[39,32],[47,29],[48.5,28.5]],[[43,16.5],[52,19],[55,20],[52,23]],[[89,26],[92,25],[94,24],[97,28]],[[98.5,10],[99,17],[101,20]],[[102,22],[105,18],[107.5,14.7],[106,11]],[[102.5,12],[105,14.5]],[[26,40.8],[22,41],[19.5,42]],[[22.5,48],[28,45.5],[28,43]],[[141,-2.6],[141,-9]]];

/* ---------- STYLES ---------- */
const FF='"DejaVu Sans"';
const TICK=13.8, TITLE=16.55, LEG=11;
const RED='#c0392b', SLATE='#2c3e50', GRAY='#7f8c8d', BAND='rgba(127,140,141,0.35)';
const OCEAN='#d4e6f1', LAND='#e8e8e4', COAST='rgba(125,135,140,0.45)', BORDER='#dedeDA';
const L=76,T=28,R=21,B=68,W=704,H=307;

function symbol(w,h,fn){const c=document.createElement('canvas');c.width=w;c.height=h;fn(c.getContext('2d'));return c;}
function starPath(ctx,cx,cy,r){ctx.beginPath();for(let i=0;i<10;i++){const a=-Math.PI/2+i*Math.PI/5,q=i%2?r*0.382:r;ctx.lineTo(cx+q*Math.cos(a),cy+q*Math.sin(a));}ctx.closePath();}
const fmtMinus=v=>v<0?'\u2212'+(-v):String(v);
const xyOf=p=>({x:p[0],y:p[1]});

const decor={id:'decor',
  afterLayout(chart){
    const o=chart.options.plugins.decor, l=chart.legend;
    if(!o.frame||!l)return;
    const cv=chart.canvas, ox=parseFloat(cv.style.left), oy=parseFloat(cv.style.top);
    l.left=o.frame[0]-ox; l.top=o.textTop-oy; l.right=l.left+o.frame[2]+4; l.bottom=l.top+o.frame[3]+20; l.height=l.bottom-l.top; l.width=o.frame[2];
  },
  beforeLayout(chart){
    const o=chart.options.plugins.decor, l=chart.legend;
    if(!l||l._wrapped)return; l._wrapped=true;
    l._layers=()=>[{z:20,draw(){
      if(o.frame){
        const cv=chart.canvas,c=chart.ctx,ox=parseFloat(cv.style.left),oy=parseFloat(cv.style.top);
        c.save();c.beginPath();c.roundRect(o.frame[0]-ox+.5,o.frame[1]-oy+.5,o.frame[2],o.frame[3],3);
        c.fillStyle='rgba(255,255,255,0.8)';c.fill();c.strokeStyle='rgba(204,204,204,0.8)';c.lineWidth=1;c.stroke();c.restore();
      }
      l.draw();
    }}];
  },
  beforeDatasetsDraw(chart){
    const o=chart.options.plugins.decor;
    if(o.ocean){const a=chart.chartArea,c=chart.ctx;c.save();c.fillStyle=o.ocean;c.fillRect(a.left,a.top,a.width,a.height);c.restore();}
  },
  afterDraw(chart){
    const a=chart.chartArea,c=chart.ctx;c.save();c.strokeStyle='#000';c.lineWidth=1.3;
    c.strokeRect(a.left+.5,a.top+.5,a.width,a.height);c.restore();
  }
};

function noPad(s){s.paddingLeft=s.paddingRight=s.paddingTop=s.paddingBottom=0;}
function xAxis(cfg){return {type:'linear',min:cfg.min,max:cfg.max,offset:false,
  afterBuildTicks:s=>{s.ticks=cfg.ticks.map(v=>({value:v}));},
  afterFit:s=>{s.height=B;noPad(s);},
  border:{display:false,dash:cfg.dash||[]},
  grid:{offset:false,color:cfg.gridColor||'#e4e4e4',lineWidth:cfg.gridWidth||1,drawTicks:true,tickLength:5,tickColor:'#000',tickWidth:1,z:cfg.gridZ||0},
  title:cfg.title?{display:true,text:cfg.title,color:'#000',font:{family:FF,size:TICK},padding:{top:0,bottom:cfg.titlePad}}:{display:false},
  ticks:{autoSkip:false,color:'#000',font:{family:FF,size:TICK},padding:cfg.tickPad??5,minRotation:cfg.rot||0,maxRotation:cfg.rot||0,labelOffset:cfg.labelOffset||0,callback:cfg.label}};}
function yAxis(cfg){return {type:'linear',min:cfg.min,max:cfg.max,
  afterBuildTicks:s=>{s.ticks=cfg.ticks.map(v=>({value:v}));},
  afterFit:s=>{s.width=L;noPad(s);},
  border:{display:false,dash:cfg.dash||[]},
  grid:{color:cfg.gridColor||'#e4e4e4',lineWidth:cfg.gridWidth||1,drawTicks:true,tickLength:5,tickColor:'#000',tickWidth:1,z:cfg.gridZ||0},
  title:{display:true,text:cfg.title,color:'#000',font:{family:FF,size:TICK},padding:{top:cfg.titlePad,bottom:0}},
  ticks:{color:'#000',font:{family:FF,size:TICK},padding:4,labelOffset:1,callback:cfg.label||(v=>fmtMinus(v))}};}
const dateLabel=v=>dateTickLabels[dateTickDays.indexOf(v)]??'';

function panel(plotLeft,plotTop,cfg){
  const cv=document.createElement('canvas');
  const left=plotLeft-L, top=plotTop-T, tt=cfg.titleTop??6;
  cv.width=L+W+R; cv.height=T+H+B;
  cv.style.left=left+'px'; cv.style.top=top+'px';
  cv.style.width=cv.width+'px'; cv.style.height=cv.height+'px';
  document.body.appendChild(cv);
  return new Chart(cv,{type:cfg.type||'line',data:{datasets:cfg.datasets},plugins:[decor],options:{
    responsive:false,animation:false,devicePixelRatio:1,events:[],
    layout:{padding:{left:0,right:R,top:0,bottom:0}},
    elements:{line:{tension:0}},
    scales:cfg.scales,
    plugins:{tooltip:{enabled:false},
      decor:cfg.decor||{},
      title:{display:true,text:cfg.title,color:'#000',fullSize:false,font:{family:FF,size:TITLE,weight:'normal'},padding:{top:tt,bottom:T-tt-TITLE*1.2}},
      legend:cfg.legend?{display:true,position:'chartArea',align:'start',labels:{usePointStyle:true,pointStyleWidth:cfg.legend.boxW,boxHeight:LEG,padding:cfg.legend.gap,color:'#000',font:{family:FF,size:LEG},generateLabels:()=>cfg.legend.items}}:{display:false}
    }}});
}

/* ---------- FLIGHT TRACK ---------- */
const launchMark=symbol(24,24,c=>{c.beginPath();c.arc(12,12,8.6,0,7);c.fillStyle='#27ae60';c.fill();c.lineWidth=1.4;c.strokeStyle='#000';c.stroke();});
const starMark=symbol(26,26,c=>{starPath(c,13,13.5,11);c.fillStyle='#1f77b4';c.fill();c.lineWidth=1.4;c.strokeStyle='#000';c.lineJoin='miter';c.stroke();});
const lgLaunch=symbol(24,24,c=>{c.beginPath();c.arc(9.6,12,8.6,0,7);c.fillStyle='#27ae60';c.fill();c.lineWidth=1.4;c.strokeStyle='#000';c.stroke();});
const lgStar=symbol(24,26,c=>{starPath(c,9.6,13.5,11);c.fillStyle='#1f77b4';c.fill();c.lineWidth=1.4;c.strokeStyle='#000';c.lineJoin='miter';c.stroke();});
const lgTrack=symbol(24,8,c=>{c.beginPath();c.arc(9.6,4,2.1,0,7);c.fillStyle=RED;c.fill();});

const landSets=[northAmerica,southAmerica,africa,eurasia,australia,antarctica,greenland,...islands].map(p=>({
  label:'land',data:p.map(xyOf),showLine:true,fill:'shape',backgroundColor:LAND,borderColor:COAST,borderWidth:.9,pointRadius:0,order:30}));
const seaSets=[caspianSea].map(p=>({label:'sea',data:p.map(xyOf),showLine:true,fill:'shape',backgroundColor:OCEAN,borderColor:COAST,borderWidth:.9,pointRadius:0,order:25}));
const borderSets=countryBorders.map(p=>({label:'border',data:p.map(xyOf),showLine:true,fill:false,borderColor:BORDER,borderWidth:.9,pointRadius:0,order:28}));
const mapGrid='rgba(110,120,130,0.2)';

panel(83,31,{title:'Flight Track',
  datasets:[...landSets,...seaSets,...borderSets,
    {label:'Track',data:trackFixes.map(xyOf),showLine:false,pointRadius:2.9,pointBorderWidth:0,pointBackgroundColor:'rgba(192,57,43,0.92)',order:5},
    {label:'Launch',data:[xyOf(launchFix)],showLine:false,pointRadius:9,pointStyle:launchMark,order:3},
    {label:'Last fix',data:[xyOf(lastFix)],showLine:false,pointRadius:9,pointStyle:starMark,order:2}],
  scales:{x:xAxis({min:-180,max:180,ticks:lonTicks,label:fmtMinus,title:'Longitude (deg)',titlePad:21.7,tickPad:3,gridColor:mapGrid,gridWidth:.8,gridZ:1,dash:[2,2]}),
          y:yAxis({min:-90,max:90,ticks:latTicks,title:'Latitude (deg)',titlePad:17,gridColor:mapGrid,gridWidth:.8,gridZ:1,dash:[2,2]})},
  decor:{ocean:OCEAN,frame:[90,283.3,79,50],textTop:282.3},
  legend:{boxW:24,gap:4.7,items:[{text:'Track',pointStyle:lgTrack,lineWidth:1,fillStyle:RED,strokeStyle:RED},{text:'Launch',pointStyle:lgLaunch,lineWidth:1,fillStyle:RED,strokeStyle:RED},{text:'Last fix',pointStyle:lgStar,lineWidth:1,fillStyle:RED,strokeStyle:RED}]}
});

/* ---------- WIND SPEED ---------- */
const bandOutline=[...windSamples.map(s=>({x:s[0],y:s[1]+s[2]})),...windSamples.slice().reverse().map(s=>({x:s[0],y:Math.max(0,s[1]-s[2])}))];
const lgBand=symbol(26,10,c=>{c.fillStyle=BAND;c.fillRect(0,0,24,10);});
const lgDot=symbol(26,6,c=>{c.beginPath();c.arc(12,3,2,0,7);c.fillStyle=SLATE;c.fill();});
const lgLine=symbol(26,4,c=>{c.fillStyle=RED;c.fillRect(0,1,24,2);});
panel(83,420,{title:'Wind Speed vs. Time',
  datasets:[
    {label:'\u00b11\u03c3 propagated error',data:bandOutline,showLine:true,fill:'shape',backgroundColor:BAND,borderWidth:0,borderColor:'transparent',pointRadius:0,order:9},
    {label:'Wind speed',data:windSamples.map(s=>({x:s[0],y:s[1]})),showLine:false,pointRadius:2.5,pointBorderWidth:0,pointBackgroundColor:SLATE,order:5},
    {label:'Daily mean',data:meanDays.map((d,i)=>({x:d,y:meanSpeed[i]})),borderColor:RED,borderWidth:2,pointRadius:0,fill:false,order:2}],
  scales:{x:xAxis({min:-7.28,max:64.88,ticks:dateTickDays,label:dateLabel,rot:20,labelOffset:30}),
          y:yAxis({min:0,max:98.5,ticks:windTicks,title:'Wind speed (m s\u207b\u00b9)',titlePad:23})},
  decor:{frame:[620.7,425.7,160.5,49.3],textTop:426},
  legend:{boxW:26,gap:4.5,items:[{text:'\u00b11\u03c3 propagated error',pointStyle:lgBand,lineWidth:1},{text:'Wind speed',pointStyle:lgDot,lineWidth:1},{text:'Daily mean',pointStyle:lgLine,lineWidth:1}]}
});

/* ---------- LATITUDE ---------- */
panel(863,420,{title:'Latitude vs. Time',
  datasets:[{label:'Latitude',data:latitudeSamples.map(s=>({x:s[0],y:s[1]})),showLine:false,pointRadius:2.6,pointBorderWidth:0,pointBackgroundColor:'#000'}],
  scales:{x:xAxis({min:-7.05,max:64.87,ticks:dateTickDays,label:dateLabel,rot:20,labelOffset:30}),
          y:yAxis({min:-90,max:90,ticks:latTicks,title:'Latitude (deg)',titlePad:15.7})}
});

/* ---------- ALTITUDE ---------- */
panel(83,808,{title:'Balloon Altitude vs. Time',titleTop:7,
  datasets:[
    {label:'Altitude',data:altitudeSamples.map(s=>({x:s[0],y:s[1]})),showLine:false,pointRadius:2.3,pointBorderWidth:0,pointBackgroundColor:GRAY,order:5},
    {label:'Daily mean',data:meanDays.map((d,i)=>({x:d,y:meanAltitude[i]})),borderColor:RED,borderWidth:2,pointRadius:0,fill:false,order:2}],
  scales:{x:xAxis({min:-7.28,max:64.88,ticks:dateTickDays,label:dateLabel,rot:20,labelOffset:30,title:'UTC date',titlePad:.7}),
          y:yAxis({min:12241,max:13162,ticks:altTicks,title:'Altitude (m AMSL)',titlePad:2,label:v=>String(v)})}
});

/* ---------- HISTOGRAM ---------- */
const lgU=symbol(24,12,c=>{c.fillStyle='rgba(31,119,180,0.65)';c.fillRect(.5,1.5,23,9);c.strokeStyle='rgba(0,0,0,0.65)';c.strokeRect(.5,1.5,23,9);});
const lgV=symbol(24,12,c=>{c.fillStyle='rgba(255,127,14,0.65)';c.fillRect(.5,1.5,23,9);c.strokeStyle='rgba(0,0,0,0.65)';c.strokeRect(.5,1.5,23,9);});
panel(863,808,{type:'bar',title:'U and V Wind Components',titleTop:7,
  datasets:[
    {label:'U (zonal)',data:histBinCenters.map((c,i)=>({x:c,y:histU[i]})),backgroundColor:'rgba(31,119,180,0.65)',borderColor:'rgba(0,0,0,0.7)',borderWidth:1,borderSkipped:false,grouped:false,barPercentage:1,categoryPercentage:1,order:2},
    {label:'V (meridional)',data:histBinCenters.map((c,i)=>({x:c,y:histV[i]})),backgroundColor:'rgba(255,127,14,0.65)',borderColor:'rgba(0,0,0,0.7)',borderWidth:1,borderSkipped:false,grouped:false,barPercentage:1,categoryPercentage:1,order:1}],
  scales:{x:xAxis({min:-100,max:100,ticks:histXTicks,label:fmtMinus,title:'Wind speed (m s\u207b\u00b9)',titlePad:18.7,tickPad:4}),
          y:yAxis({min:0,max:108.4,ticks:histYTicks,title:'Frequency',titlePad:19.7})},
  decor:{frame:[1442.6,814.3,116,34],textTop:815.5},
  legend:{boxW:24.4,gap:4,items:[{text:'U (zonal)',pointStyle:lgU,lineWidth:1},{text:'V (meridional)',pointStyle:lgV,lineWidth:1}]}
});

/* ---------- SUMMARY TEXT ---------- */
const infoLines=[
 ['Pico Balloon Archive',51,22.2,'#1a5276',1214.5],
 ['Callsign: VE3VRO-25   (WSPR)',73.7,19.4,'#000',1214.5],
 ['2025-02-25 05:24:00  to  2025-05-01 13:34:00  UTC',96.3,15.2,'#000',1214.5],
 ['Time aloft: 65.3 days    Data points: 573',119.3,15.25,'#000',1214.5],
 ['Altitude: 12200 - 13120 m    (float 661 h)',142.5,15.25,'#000',1214.5],
 ['Latitude range: -29.64 to 37.02',165,15.25,'#000',1214.5],
 ['Path length: 152,550 km',188,15.25,'#000',1214.5],
 ['Position source: reported GPS    \u03c3(E,N) = 2919, 2232 m',211.2,15.25,'#000',1214.5],
 ['Median sampling gap: 10 min    Longest gap: 149.2 h',233.8,15.25,'#000',1214.5],
 ['Data quality score: 0.857',256.9,17.95,'#1a5276',1214.5],
 ['precision=0.91   cadence=1.00   agreement=1.00   stability=0.99   coverage=0.42',277.7,12.55,'#555555',1217.5]];
for(const [text,y,size,color,cx] of infoLines){
  const d=document.createElement('div');d.className='info';d.textContent=text;
  d.style.left=cx+'px';d.style.top=y+'px';d.style.fontSize=size+'px';d.style.color=color;document.body.appendChild(d);
}
</script>
</body></html>
